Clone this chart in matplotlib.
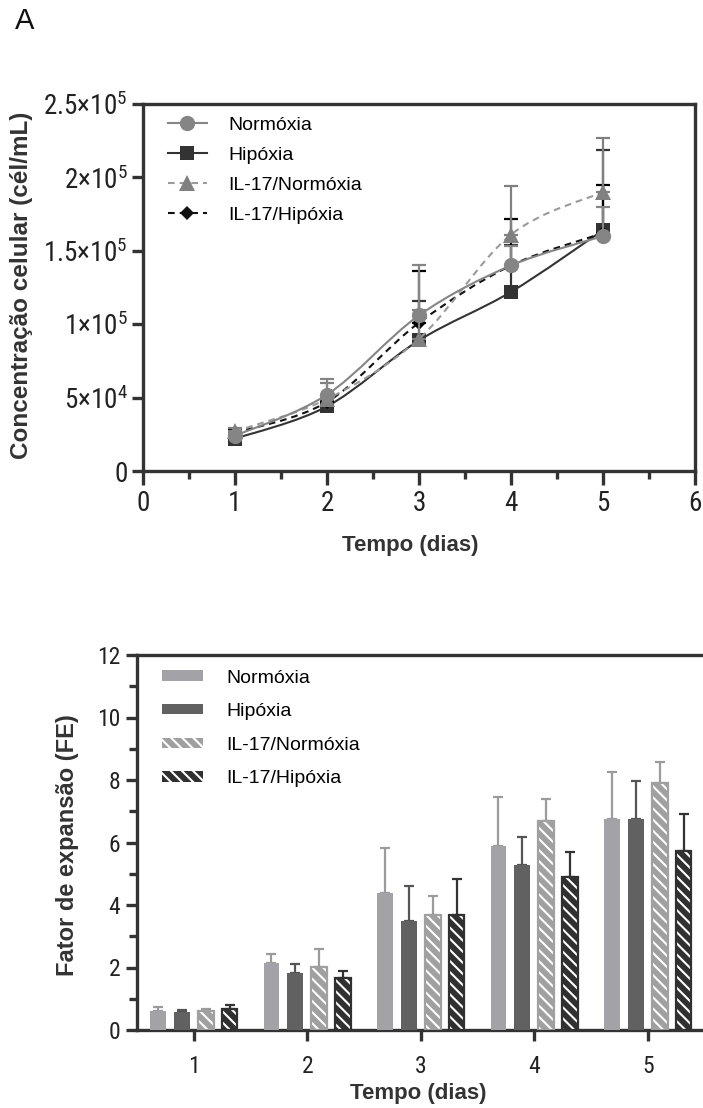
import numpy as np
import matplotlib
matplotlib.use("Agg")
import matplotlib.pyplot as plt
from matplotlib import font_manager as fm
from matplotlib.path import Path
from matplotlib.patches import PathPatch, Patch
from matplotlib.lines import Line2D
from matplotlib.ticker import MultipleLocator

# ---------------- data ----------------
days = [1, 2, 3, 4, 5]
series_names = ["Normóxia", "Hipóxia", "IL-17/Normóxia", "IL-17/Hipóxia"]

# Panel A: cell concentration (cells/mL), upper SD
conc_norm = [2.4e4, 5.2e4, 1.06e5, 1.40e5, 1.60e5]
conc_norm_err = [0.2e4, 1.1e4, 3.4e4, 1.3e4, 2.0e4]
conc_hip = [2.2e4, 4.4e4, 0.89e5, 1.22e5, 1.64e5]
conc_hip_err = [0.2e4, 0.3e4, 2.7e4, 3.2e4, 5.5e4]
conc_il_norm = [2.7e4, 4.9e4, 0.90e5, 1.61e5, 1.90e5]
conc_il_norm_err = [0.2e4, 1.1e4, 2.0e4, 3.3e4, 3.7e4]
conc_il_hip = [2.6e4, 4.7e4, 1.01e5, 1.40e5, 1.62e5]
conc_il_hip_err = [0.2e4, 0.4e4, 3.5e4, 3.2e4, 3.3e4]

conc_yticks = [0, 5e4, 1e5, 1.5e5, 2e5, 2.5e5]
conc_yticklabels = ["0", r"$5{\times}10^4$", r"$1{\times}10^5$", r"$1.5{\times}10^5$",
                    r"$2{\times}10^5$", r"$2.5{\times}10^5$"]

# Panel B: expansion factor, upper SD
fe_norm = [0.60, 2.15, 4.40, 5.90, 6.75]
fe_norm_err = [0.15, 0.27, 1.42, 1.57, 1.50]
fe_hip = [0.58, 1.82, 3.50, 5.28, 6.74]
fe_hip_err = [0.05, 0.28, 1.10, 0.90, 1.24]
fe_il_norm = [0.60, 2.03, 3.68, 6.69, 7.90]
fe_il_norm_err = [0.06, 0.57, 0.61, 0.70, 0.67]
fe_il_hip = [0.68, 1.68, 3.68, 4.90, 5.74]
fe_il_hip_err = [0.12, 0.22, 1.15, 0.80, 1.16]

# ---------------- fonts ----------------
names = {f.name for f in fm.fontManager.ttflist}
narrow_prefs = ["Liberation Sans Narrow", "Arial Narrow", "Roboto Condensed",
                "Noto Sans Condensed", "Open Sans Condensed", "DejaVu Sans Condensed",
                "Noto Sans SemiCondensed", "Open Sans SemiCondensed"]
NARROW = None
for n in narrow_prefs:
    if n in names:
        NARROW = n
        break
if NARROW is None:
    for n in sorted(names):
        if ("Condensed" in n or "Narrow" in n) and "Mono" not in n and "Serif" not in n:
            NARROW = n
            break
if NARROW is None:
    NARROW = "Liberation Sans"
    TOP_TICK, BOT_TICK = 17.5, 15
else:
    TOP_TICK, BOT_TICK = 19.5, 17

MAIN = "Liberation Sans"
plt.rcParams["font.family"] = [MAIN, "DejaVu Sans"]
plt.rcParams["mathtext.fontset"] = "custom"
plt.rcParams["mathtext.rm"] = NARROW
plt.rcParams["mathtext.it"] = NARROW
plt.rcParams["mathtext.bf"] = NARROW + ":bold"
plt.rcParams["mathtext.default"] = "regular"
plt.rcParams["hatch.linewidth"] = 1.5

SPINE = "#333333"
TXT = "#222222"
LBL = "#333333"

fig = plt.figure(figsize=(7.03, 11.08), dpi=100)
W, H = 703.0, 1108.0


def axes_px(left, top, right, bottom):
    return fig.add_axes([left / W, 1 - bottom / H, (right - left) / W, (bottom - top) / H])


def spline_path(x, y):
    pts = np.column_stack([x, y]).astype(float)
    n = len(pts)
    verts = [pts[0]]
    codes = [Path.MOVETO]
    for i in range(n - 1):
        p0 = pts[i - 1] if i > 0 else pts[i]
        p1 = pts[i]
        p2 = pts[i + 1]
        p3 = pts[i + 2] if i + 2 < n else pts[i + 1]
        verts += [p1 + (p2 - p0) / 6.0, p2 - (p3 - p1) / 6.0, p2]
        codes += [Path.CURVE4] * 3
    return Path(verts, codes)


# ================= Panel A =================
ax1 = axes_px(143, 104, 695, 471)
ax1.set_xlim(0, 6)
ax1.set_ylim(0, 2.5e5)

DASH = (0, (3.2, 2.4))
line_specs = [
    # values, err, line color, ls, marker, marker color, ms, z
    (conc_hip, conc_hip_err, "#333333", "-", "s", "#333333", 10, 3),
    (conc_il_hip, conc_il_hip_err, "#111111", DASH, "D", "#000000", 7, 4),
    (conc_il_norm, conc_il_norm_err, "#9a9a9a", DASH, "^", "#808080", 11, 5),
    (conc_norm, conc_norm_err, "#858585", "-", "o", "#858585", 11, 6),
]
for vals, err, lc, ls, mk, mc, ms, z in line_specs:
    ax1.errorbar(days, vals, yerr=[np.zeros(len(err)), err], fmt="none",
                 ecolor=mc, elinewidth=1.6, capsize=5, capthick=1.6, zorder=z)
    ax1.add_patch(PathPatch(spline_path(days, vals), fill=False, edgecolor=lc,
                            linestyle=ls, linewidth=1.5, zorder=z))
    ax1.plot(days, vals, linestyle="none", marker=mk, color=mc, markersize=ms,
             markeredgewidth=0, zorder=z + 0.5)

for side in ["left", "bottom", "top", "right"]:
    ax1.spines[side].set_color(SPINE)
    ax1.spines[side].set_linewidth(2.4)
ax1.set_xticks(range(0, 7))
ax1.xaxis.set_minor_locator(MultipleLocator(0.5))
ax1.set_yticks(conc_yticks)
ax1.set_yticklabels(conc_yticklabels)
ax1.tick_params(axis="both", which="major", direction="out", length=8, width=2.4,
                color=SPINE, labelsize=TOP_TICK, labelcolor=TXT, pad=3)
ax1.tick_params(axis="x", which="major", length=10, pad=4)
ax1.tick_params(axis="x", which="minor", direction="out", length=6, width=2.4, color=SPINE)
for lab in ax1.get_xticklabels() + ax1.get_yticklabels():
    lab.set_fontfamily([NARROW, "DejaVu Sans"])

handles1 = [
    Line2D([], [], color="#858585", ls="-", lw=1.5, marker="o", ms=11, mew=0),
    Line2D([], [], color="#333333", ls="-", lw=1.5, marker="s", ms=10, mew=0),
    Line2D([], [], color="#9a9a9a", ls=DASH, lw=1.5, marker="^", ms=11, mew=0,
           markerfacecolor="#808080"),
    Line2D([], [], color="#111111", ls=DASH, lw=1.5, marker="D", ms=7, mew=0),
]
ax1.legend(handles1, series_names, loc="upper left", bbox_to_anchor=(0.045, 0.967),
           frameon=False, fontsize=14, handlelength=2.0, handletextpad=1.1,
           labelspacing=0.64, borderpad=0, borderaxespad=0)

fig.text(22 / W, 1 - 285 / H, "Concentração celular (cél/mL)", rotation=90,
         ha="center", va="center", fontsize=17.5, fontweight="bold", color=LBL)
fig.text(410 / W, 1 - 545 / H, "Tempo (dias)", ha="center", va="center",
         fontsize=16, fontweight="bold", color=LBL)
fig.text(15 / W, 1 - 29 / H, "A", ha="left", va="baseline", fontsize=21, color="#111111")

# ================= Panel B =================
ax2 = axes_px(137, 655, 137 + 5 * 113.5, 1030)
ax2.set_xlim(0.5, 5.5)
ax2.set_ylim(0, 12)

x = np.array(days, dtype=float)
step = 0.21
width = 0.14
HATCH = "\\\\\\"
bar_specs = [
    (fe_norm, fe_norm_err, "#a3a3a7", None, "#9b9b9b"),
    (fe_hip, fe_hip_err, "#616161", None, "#555555"),
    (fe_il_norm, fe_il_norm_err, "#a0a0a0", HATCH, "#9b9b9b"),
    (fe_il_hip, fe_il_hip_err, "#303030", HATCH, "#333333"),
]
for i, (vals, err, fc, hatch, ec) in enumerate(bar_specs):
    pos = x + (i - 1.5) * step
    ax2.errorbar(pos, vals, yerr=[np.zeros(len(err)), err], fmt="none", ecolor=ec,
                 elinewidth=1.6, capsize=3.5, capthick=1.6, zorder=2)
    if hatch:
        ax2.bar(pos, vals, width=width, color=fc, edgecolor="white", hatch=hatch,
                linewidth=0, zorder=3)
        ax2.bar(pos, vals, width=width, fill=False, edgecolor=fc, linewidth=1.6, zorder=4)
    else:
        ax2.bar(pos, vals, width=width, color=fc, linewidth=0, zorder=3)

for side in ["left", "bottom", "top"]:
    ax2.spines[side].set_color(SPINE)
    ax2.spines[side].set_linewidth(2.4)
ax2.spines["right"].set_visible(False)
ax2.set_xticks(days)
ax2.set_yticks(range(0, 13, 2))
ax2.yaxis.set_minor_locator(MultipleLocator(1))
ax2.tick_params(axis="both", which="major", direction="out", length=8, width=2.4,
                color=SPINE, labelsize=BOT_TICK, labelcolor=TXT, pad=4)
ax2.tick_params(axis="y", which="minor", direction="out", length=6, width=2.4, color=SPINE)
ax2.tick_params(axis="x", which="major", pad=10)
for lab in ax2.get_xticklabels() + ax2.get_yticklabels():
    lab.set_fontfamily([NARROW, "DejaVu Sans"])

handles2 = [
    Patch(facecolor="#a3a3a7", edgecolor="none"),
    Patch(facecolor="#616161", edgecolor="none"),
    Patch(facecolor="#a0a0a0", edgecolor="white", hatch=HATCH, linewidth=0),
    Patch(facecolor="#303030", edgecolor="white", hatch=HATCH, linewidth=0),
]
ax2.legend(handles2, series_names, loc="upper left", bbox_to_anchor=(0.044, 0.961),
           frameon=False, fontsize=14, handlelength=2.1, handleheight=0.45,
           handletextpad=1.2, labelspacing=0.85, borderpad=0, borderaxespad=0)

fig.text(68 / W, 1 - 845 / H, "Fator de expansão (FE)", rotation=90,
         ha="center", va="center", fontsize=17, fontweight="bold", color=LBL)
fig.text(418 / W, 1 - 1093 / H, "Tempo (dias)", ha="center", va="center",
         fontsize=16, fontweight="bold", color=LBL)

fig.savefig("out.png", dpi=100)
